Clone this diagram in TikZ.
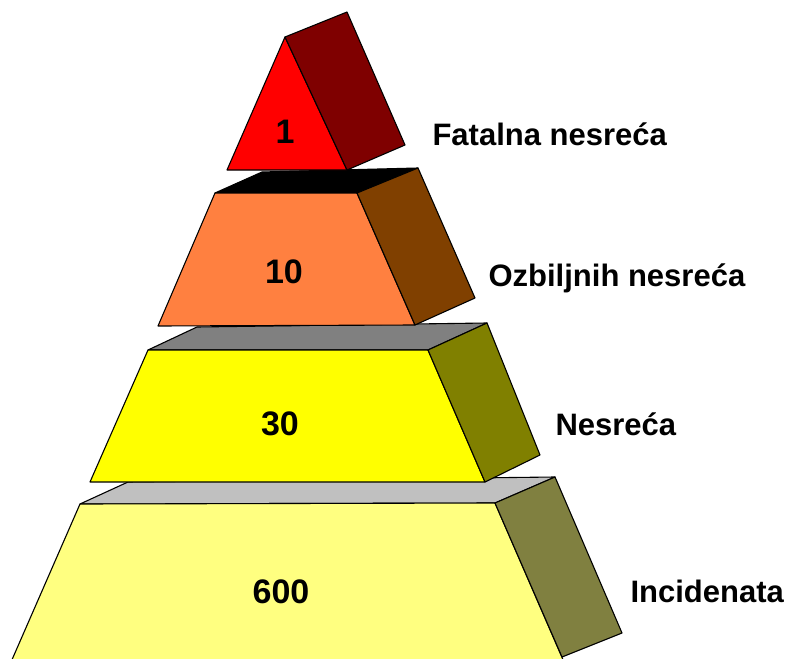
\documentclass[tikz,border=0pt]{standalone}
\usepackage{fontspec}
\setmainfont{Liberation Sans}
\definecolor{fatalFront}{HTML}{FF0000}
\definecolor{fatalSide}{HTML}{7F0000}
\definecolor{seriousFront}{HTML}{FF8040}
\definecolor{seriousSide}{HTML}{804000}
\definecolor{seriousTop}{HTML}{000000}
\definecolor{accidentFront}{HTML}{FFFF00}
\definecolor{accidentSide}{HTML}{808000}
\definecolor{accidentTop}{HTML}{808080}
\definecolor{incidentFront}{HTML}{FFFF80}
\definecolor{incidentSide}{HTML}{808040}
\definecolor{incidentTop}{HTML}{C0C0C0}

\begin{document}
\begin{tikzpicture}[x=1pt, y=-1pt, line join=round, line width=1.1pt]
        \tikzstyle{face}=[draw=black]
        \tikzstyle{count}=[anchor=base, inner sep=0pt, text=black, font=\fontsize{34}{40}\selectfont\bfseries]
        \tikzstyle{caption}=[anchor=base west, inner sep=0pt, text=black, font=\fontsize{31}{37}\selectfont\bfseries]

        \clip (0,0) rectangle (789,658);

        % bottom level: incidents
        \filldraw[face, fill=incidentTop]   (80,504) -- (128,482) -- (555,477) -- (495,503) -- cycle;
        \filldraw[face, fill=incidentFront] (80,504) -- (495,503) -- (564,662) -- (11,662) -- cycle;
        \filldraw[face, fill=incidentSide]  (495,503) -- (555,477) -- (622,633) -- (562,657) -- cycle;

        % third level: accidents
        \filldraw[face, fill=accidentTop]   (148,350) -- (197,327) -- (487,323) -- (428,350) -- cycle;
        \filldraw[face, fill=accidentFront] (148,350) -- (428,350) -- (485,482) -- (90,482) -- cycle;
        \filldraw[face, fill=accidentSide]  (428,350) -- (487,323) -- (540,455) -- (485,482) -- cycle;

        % second level: serious accidents
        \filldraw[face, fill=seriousTop]   (215,193) -- (262,172) -- (418,168) -- (357,193) -- cycle;
        \filldraw[face, fill=seriousFront] (215,193) -- (357,193) -- (415,325) -- (158,326) -- cycle;
        \filldraw[face, fill=seriousSide]  (357,193) -- (418,168) -- (475,298) -- (415,325) -- cycle;

        % top: fatal accident
        \filldraw[face, fill=fatalFront] (227,170) -- (285,37) -- (347,170) -- cycle;
        \filldraw[face, fill=fatalSide]  (285,37) -- (347,12) -- (405,145) -- (347,170) -- cycle;

        \node[count] (n1)   at (285,143) {1};
        \node[count] (n10)  at (284,283) {10};
        \node[count] (n30)  at (280,435) {30};
        \node[count] (n600) at (281,603) {600};

        \node[caption] (fatal)    at (432,145) {Fatalna nesreća};
        \node[caption] (serious)  at (488,286) {Ozbiljnih nesreća};
        \node[caption] (accident) at (555,435) {Nesreća};
        \node[caption] (incident) at (630,602) {Incidenata};
    \end{tikzpicture}
\end{document}
